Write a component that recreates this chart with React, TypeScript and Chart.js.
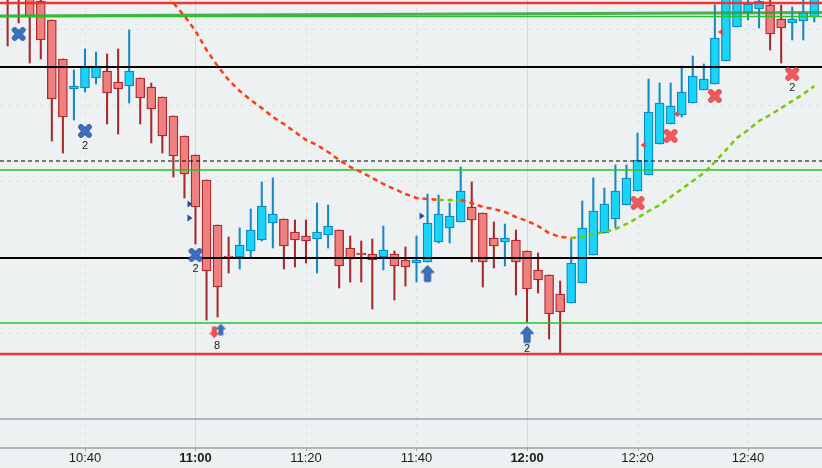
import { useEffect, useRef } from "react";
import { Chart, registerables } from "chart.js";

Chart.register(...registerables);

// one candle every 2 minutes, first at 10:26 (minutes after midnight)
const startMinute = 626;
const stepMinutes = 2;

const opens = [
  2234, 2239, 2229, 2223.5, 2214, 2194.5, 2179.5, 2180, 2185, 2188.5,
  2183, 2181, 2185, 2180.5, 2175.5, 2166, 2156, 2146.5, 2134, 2111.5,
  2096, 2095.5, 2098.5, 2104, 2112.5, 2114.5, 2108, 2106, 2104.5, 2106.5,
  2109, 2100, 2097.5, 2097, 2095.5, 2097, 2094, 2092.5, 2093, 2103,
  2110, 2113, 2120.5, 2117.5, 2105, 2103, 2104, 2098.5, 2089, 2086.5,
  2077, 2072.5, 2082.5, 2096.5, 2107.5, 2114.5, 2121.5, 2128.5, 2136.5, 2152,
  2162, 2166.5, 2172.5, 2179, 2182, 2193.5, 2210.5, 2217.5, 2219.5, 2221.5,
  2214.5, 2212.5, 2213.5, 2215.5,
];
const highs = [
  2238, 2242, 2232, 2226, 2214, 2194.5, 2189, 2199.5, 2198, 2197,
  2199.5, 2209, 2185, 2182.5, 2175.5, 2166, 2156, 2146.5, 2134, 2111.5,
  2105.5, 2110, 2119.5, 2133, 2135, 2114.5, 2114, 2114, 2122.5, 2121.5,
  2109, 2106, 2103.5, 2104.5, 2111, 2098.5, 2100.5, 2106, 2127, 2126.5,
  2122.5, 2140.5, 2133, 2117.5, 2113, 2112, 2109, 2098.5, 2097.5, 2086.5,
  2083.5, 2104.5, 2123.5, 2135, 2130, 2141.5, 2141.5, 2157.5, 2184.5, 2182.5,
  2182.5, 2191, 2196, 2192, 2221.5, 2229, 2228, 2225, 2225.5, 2225,
  2221.5, 2220.5, 2225.5, 2228,
];
const lows = [
  2201, 2212.5, 2192.5, 2194.5, 2153.5, 2147.5, 2164, 2178, 2182, 2162,
  2157, 2172.5, 2162, 2152.5, 2147.5, 2135.5, 2125, 2102, 2064, 2065.5,
  2087.5, 2089.5, 2095.5, 2103.5, 2100, 2089.5, 2090.5, 2092.5, 2087.5, 2100,
  2080, 2083, 2083, 2069.5, 2089, 2074, 2081, 2083, 2093, 2102.5,
  2102.5, 2113, 2093, 2080.5, 2090, 2091, 2076.5, 2063, 2077.5, 2054.5,
  2047, 2072.5, 2082.5, 2096.5, 2107.5, 2110, 2121.5, 2128.5, 2136.5, 2152,
  2162, 2165.5, 2172.5, 2179, 2182, 2193.5, 2210.5, 2214, 2210, 2199,
  2192.5, 2204, 2204, 2213,
];
const closes = [
  2226, 2227, 2215.5, 2204, 2174.5, 2165.5, 2181, 2191, 2191, 2177.5,
  2179.5, 2188.5, 2175, 2169.5, 2156, 2146, 2137, 2120.5, 2088.5, 2080.5,
  2095.5, 2101.5, 2109, 2121, 2117, 2101, 2104, 2103.5, 2108, 2111,
  2091, 2094.5, 2096.5, 2094, 2099, 2091, 2090.5, 2094, 2112.5, 2117,
  2116, 2128.5, 2114, 2093, 2101, 2105, 2093, 2079.5, 2084, 2067,
  2068, 2092.5, 2110, 2118.5, 2122, 2128.5, 2135, 2144, 2168, 2172.5,
  2171, 2178, 2186, 2184.5, 2205, 2226.5, 2226, 2222, 2223.5, 2207,
  2210, 2214.5, 2217.5, 2226,
];

// trailing trend line (one value per candle)
const trendLine = [
  null, null, null, null, null, null, null, null, null, null, null, null,
  2249, 2239, 2230, 2222.5, 2216, 2208.5, 2199, 2191, 2184, 2178.5,
  2174, 2170, 2165.5, 2162, 2158, 2154, 2151.5, 2148, 2144, 2140.5,
  2138, 2135, 2132, 2129.5, 2127, 2125, 2124.5, 2124, 2124, 2124,
  2122.5, 2120.5, 2119.5, 2118, 2115.5, 2113.5, 2111, 2107.5, 2105.5, 2105,
  2105.5, 2107, 2108, 2109.5, 2112, 2115, 2118.5, 2121.5, 2125.5, 2129.5,
  2133.5, 2137.5, 2143, 2149, 2155, 2159, 2163.5, 2166.5, 2170, 2173.5,
  2177, 2181,
];

const timeTicks = [640, 660, 680, 700, 720, 740, 760];
const gridPrices = [2209.5, 2171.5, 2133.5, 2095.5, 2057.5];

// horizontal price levels
const levelPrices = [2222.5, 2215.75, 2190.5, 2143.5, 2139, 2095, 2062.5, 2047, 2014.5];
const levelKinds = ["red", "green", "black", "dash", "green", "black", "green", "red", "gray"];
const channelPrices = [2216, 2217.75];

// trade markers
const crossTimes = [628, 640, 660, 740, 746, 754, 768];
const crossPrices = [2207, 2158.5, 2096.5, 2122.5, 2156, 2176, 2187];
const crossSides = ["buy", "buy", "buy", "sell", "sell", "sell", "sell"];
const flagTimes = [659, 659, 701, 741, 747, 755];
const flagPrices = [2122, 2115, 2116, 2151.5, 2167, 2208];
const flagSides = ["buy", "buy", "buy", "sell", "sell", "sell"];
const arrowTimes = [663.4, 664.6, 702, 720];
const arrowPrices = [2058, 2059, 2087, 2056.5];
const arrowKinds = ["smallDown", "smallUp", "up", "up"];
const noteTimes = [640, 660, 663.9, 720, 768];
const notePrices = [2151, 2089.5, 2051, 2049.5, 2180];
const noteTexts = ["2", "2", "8", "2", "2"];

const X_MIN = 624.62;
const X_MAX = 773.39;
const FONT = '"Liberation Sans", Arial, sans-serif';

const levelStyle: Record<string, { color: string; width: number; dash: number[] }> = {
  red: { color: "#ee3434", width: 2.5, dash: [] },
  green: { color: "#22c427", width: 1.4, dash: [] },
  black: { color: "#000000", width: 2, dash: [] },
  dash: { color: "#000000", width: 1, dash: [4, 3] },
  gray: { color: "#9aa1a4", width: 1.3, dash: [] },
};

const fmtTime = (v: number) =>
  `${Math.floor(v / 60)}:${String(Math.round(v % 60)).padStart(2, "0")}`;

function makeCross(fill: string, edge: string) {
  const c = document.createElement("canvas");
  c.width = 18;
  c.height = 18;
  const g = c.getContext("2d")!;
  g.lineCap = "round";
  const stroke = (w: number, col: string) => {
    g.strokeStyle = col;
    g.lineWidth = w;
    g.beginPath();
    g.moveTo(5, 5);
    g.lineTo(13, 13);
    g.moveTo(13, 5);
    g.lineTo(5, 13);
    g.stroke();
  };
  stroke(5.6, edge);
  stroke(3.9, fill);
  return c;
}

function makeFlag(fill: string, right: boolean) {
  const c = document.createElement("canvas");
  c.width = 8;
  c.height = 10;
  const g = c.getContext("2d")!;
  g.fillStyle = fill;
  g.beginPath();
  if (right) {
    g.moveTo(1.5, 1.5);
    g.lineTo(6.5, 5);
    g.lineTo(1.5, 8.5);
  } else {
    g.moveTo(6.5, 1.5);
    g.lineTo(1.5, 5);
    g.lineTo(6.5, 8.5);
  }
  g.closePath();
  g.fill();
  return c;
}

function makeArrow(fill: string, edge: string, scale: number, down: boolean) {
  const c = document.createElement("canvas");
  c.width = Math.ceil(16 * scale);
  c.height = Math.ceil(19 * scale);
  const g = c.getContext("2d")!;
  g.scale(scale, scale);
  if (down) {
    g.translate(0, 19);
    g.scale(1, -1);
  }
  g.beginPath();
  g.moveTo(8, 1);
  g.lineTo(14.5, 8);
  g.lineTo(11, 8);
  g.lineTo(11, 17);
  g.lineTo(5, 17);
  g.lineTo(5, 8);
  g.lineTo(1.5, 8);
  g.closePath();
  g.fillStyle = fill;
  g.fill();
  g.strokeStyle = edge;
  g.lineWidth = 1;
  g.stroke();
  return c;
}

export default function App() {
  const canvasRef = useRef<HTMLCanvasElement>(null);

  useEffect(() => {
    if (!canvasRef.current) return;

    const times = opens.map((_, i) => startMinute + i * stepMinutes);
    const up = opens.map((o, i) => closes[i] >= o);

    const crossImgs = {
      buy: makeCross("#3e70be", "#2a559b"),
      sell: makeCross("#ef5b5b", "#d84444"),
    };
    const flagImgs = {
      buy: makeFlag("#1f4f9e", true),
      sell: makeFlag("#e24646", false),
    };
    const arrowImgs: Record<string, HTMLCanvasElement> = {
      up: makeArrow("#3b6fc3", "#26508f", 1, false),
      smallUp: makeArrow("#3b6fc3", "#26508f", 0.68, false),
      smallDown: makeArrow("#ee5050", "#d03c3c", 0.68, true),
    };

    const backdrop = {
      id: "backdrop",
      beforeDraw(chart: Chart) {
        const { ctx, width, height, chartArea } = chart;
        const xs = chart.scales.x;
        const ys = chart.scales.y;
        ctx.save();
        ctx.fillStyle = "#eef1f2";
        ctx.fillRect(0, 0, width, height);
        ctx.lineWidth = 1;
        // horizontal grid
        ctx.strokeStyle = "#dde1e3";
        ctx.setLineDash([4, 4]);
        gridPrices.forEach((p) => {
          const y = Math.round(ys.getPixelForValue(p)) + 0.5;
          ctx.beginPath();
          ctx.moveTo(chartArea.left, y);
          ctx.lineTo(chartArea.right, y);
          ctx.stroke();
        });
        // vertical grid
        timeTicks.forEach((t) => {
          const x = Math.round(xs.getPixelForValue(t)) + 0.5;
          const hour = t % 60 === 0;
          ctx.setLineDash(hour ? [] : [4, 4]);
          ctx.strokeStyle = hour ? "#d4d8da" : "#dde1e3";
          ctx.beginPath();
          ctx.moveTo(x, chartArea.top);
          ctx.lineTo(x, chartArea.bottom);
          ctx.stroke();
          ctx.setLineDash([]);
          ctx.strokeStyle = "#9aa1a4";
          ctx.beginPath();
          ctx.moveTo(x, chartArea.bottom);
          ctx.lineTo(x, chartArea.bottom + 3);
          ctx.stroke();
        });
        ctx.setLineDash([]);
        ctx.strokeStyle = "#9aa1a4";
        ctx.lineWidth = 1.3;
        ctx.beginPath();
        ctx.moveTo(chartArea.left, chartArea.bottom);
        ctx.lineTo(chartArea.right, chartArea.bottom);
        ctx.stroke();
        ctx.restore();
      },
      afterDatasetsDraw(chart: Chart) {
        const { ctx } = chart;
        const xs = chart.scales.x;
        const ys = chart.scales.y;
        ctx.save();
        ctx.fillStyle = "#1b1b1b";
        ctx.font = `11px ${FONT}`;
        ctx.textAlign = "center";
        ctx.textBaseline = "middle";
        noteTexts.forEach((txt, i) => {
          ctx.fillText(txt, xs.getPixelForValue(noteTimes[i]), ys.getPixelForValue(notePrices[i]));
        });
        ctx.restore();
      },
    };

    const levelSets = levelPrices.map((p, i) => {
      const s = levelStyle[levelKinds[i]];
      return {
        type: "line" as const,
        data: [
          { x: X_MIN, y: p },
          { x: X_MAX, y: p },
        ],
        borderColor: s.color,
        borderWidth: s.width,
        borderDash: s.dash,
        pointRadius: 0,
        order: 4,
      };
    });

    const chart = new Chart(canvasRef.current, {
      type: "bar",
      data: {
        datasets: [
          {
            type: "bar",
            data: times.map((t, i) => ({ x: t, y: [lows[i], highs[i]] })),
            backgroundColor: up.map((u) => (u ? "#1688c4" : "#a7282b")),
            barThickness: 1.4,
            grouped: false,
            order: 6,
          },
          {
            type: "bar",
            data: times.map((t, i) => ({ x: t, y: [opens[i], closes[i]] })),
            backgroundColor: up.map((u) => (u ? "#18d4f7" : "#ee8080")),
            borderColor: up.map((u) => (u ? "#0b8ac6" : "#b0282d")),
            borderWidth: 1.3,
            borderSkipped: false,
            barThickness: 9,
            grouped: false,
            order: 5,
          },
          ...levelSets,
          {
            type: "line",
            data: [
              { x: X_MIN, y: channelPrices[0] },
              { x: X_MAX, y: channelPrices[1] },
            ],
            borderColor: "rgba(52,160,52,0.85)",
            borderWidth: 3,
            pointRadius: 0,
            order: 4,
          },
          {
            type: "line",
            data: times.map((t, i) => ({ x: t, y: trendLine[i] })),
            borderColor: "#ff3c10",
            borderWidth: 2.5,
            borderDash: [5, 4],
            pointRadius: 0,
            spanGaps: false,
            segment: {
              borderColor: (ctx: any) =>
                ctx.p1.parsed.y >= ctx.p0.parsed.y ? "#76c800" : "#ff3c10",
            },
            order: 3,
          },
          {
            type: "scatter",
            data: crossTimes.map((t, i) => ({ x: t, y: crossPrices[i] })),
            pointStyle: crossSides.map((s) => crossImgs[s as "buy" | "sell"]),
            pointRadius: 5,
            order: 1,
          },
          {
            type: "scatter",
            data: flagTimes.map((t, i) => ({ x: t, y: flagPrices[i] })),
            pointStyle: flagSides.map((s) => flagImgs[s as "buy" | "sell"]),
            pointRadius: 5,
            order: 1,
          },
          {
            type: "scatter",
            data: arrowTimes.map((t, i) => ({ x: t, y: arrowPrices[i] })),
            pointStyle: arrowKinds.map((k) => arrowImgs[k]),
            pointRadius: 5,
            order: 1,
          },
        ] as any,
      },
      options: {
        responsive: false,
        animation: false,
        events: [],
        layout: { padding: 0, autoPadding: false },
        plugins: { legend: { display: false }, tooltip: { enabled: false } },
        scales: {
          x: {
            type: "linear",
            min: X_MIN,
            max: X_MAX,
            offset: false,
            grid: { display: false, drawTicks: false },
            border: { display: false },
            afterBuildTicks: (s: any) => {
              s.ticks = timeTicks.map((v) => ({ value: v }));
            },
            afterFit: (s: any) => {
              s.height = 20;
            },
            ticks: {
              autoSkip: false,
              maxRotation: 0,
              padding: 3,
              color: "#1b1b1b",
              font: (ctx: any) => ({
                family: FONT,
                size: 13,
                weight: ctx.tick && ctx.tick.value % 60 === 0 ? "bold" : "normal",
              }),
              callback: (v: any) => fmtTime(Number(v)),
            },
          },
          y: {
            type: "linear",
            display: false,
            min: 2000,
            max: 2224,
          },
        },
      } as any,
      plugins: [backdrop],
    });

    return () => chart.destroy();
  }, []);

  return (
    <div style={{ position: "fixed", left: 0, top: 0, width: 822, height: 468 }}>
      <canvas ref={canvasRef} width={822} height={468} style={{ display: "block" }} />
    </div>
  );
}
